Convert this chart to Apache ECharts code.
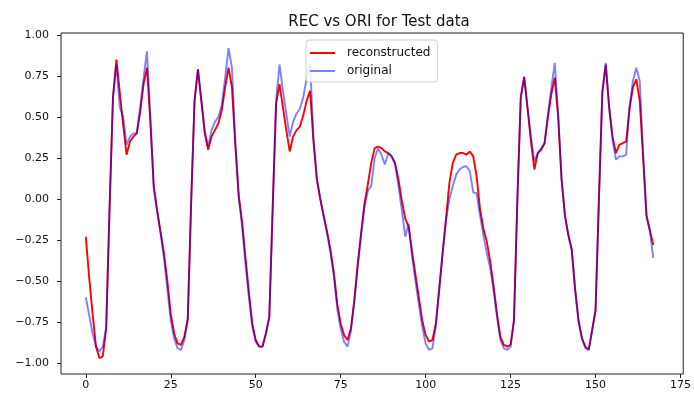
<!DOCTYPE html>
<html>
<head>
<meta charset="utf-8">
<script src="https://cdn.jsdelivr.net/npm/echarts@6/dist/echarts.min.js"></script>
<style>
  html, body { margin: 0; padding: 0; background: #fff; }
  #chart { width: 694px; height: 394px; }
</style>
</head>
<body>
<div id="chart"></div>
<script>
// Hourly test window: 168 steps, model output vs. ground truth (normalised)
const reconstructed = [
  -0.23, -0.48, -0.70, -0.90, -0.97, -0.96, -0.79, -0.05, 0.62, 0.85,
   0.65,  0.45,  0.27,  0.35,  0.38,  0.40,  0.53,  0.70, 0.80, 0.47,
   0.08, -0.07, -0.20, -0.33, -0.50, -0.70, -0.82, -0.88, -0.89, -0.84,
  -0.73, -0.02,  0.60,  0.79,  0.60,  0.40,  0.30,  0.38, 0.42, 0.46,
   0.54,  0.68,  0.80,  0.68,  0.33,  0.02, -0.14, -0.36, -0.57, -0.76,
  -0.86, -0.90, -0.90, -0.82, -0.72, -0.05,  0.58,  0.70, 0.56, 0.42,
   0.29,  0.38,  0.42,  0.44,  0.51,  0.60,  0.66,  0.35, 0.12, 0.00,
  -0.10, -0.20, -0.31, -0.45, -0.64, -0.76, -0.83, -0.86, -0.79, -0.62,
  -0.40, -0.21, -0.03,  0.09,  0.22,  0.31,  0.32,  0.31, 0.29, 0.28,
   0.26,  0.22,  0.12, -0.01, -0.12, -0.17, -0.32, -0.46, -0.60, -0.74,
  -0.83, -0.87, -0.86, -0.76, -0.55, -0.33, -0.12,  0.10, 0.22, 0.27,
   0.28,  0.28,  0.27,  0.29,  0.26,  0.14, -0.06, -0.18, -0.26, -0.38,
  -0.53, -0.70, -0.84, -0.89, -0.90, -0.89, -0.74,  0.00, 0.62, 0.745,
   0.55,  0.35,  0.18,  0.28,  0.30,  0.34,  0.50,  0.64, 0.74, 0.50,
   0.12, -0.10, -0.22, -0.31, -0.55, -0.74, -0.85, -0.90, -0.92, -0.80,
  -0.68,  0.00,  0.65,  0.82,  0.56,  0.38,  0.28,  0.33, 0.34, 0.35,
   0.55,  0.68,  0.73,  0.60,  0.25, -0.10, -0.19, -0.28
];

const original = [
  -0.60, -0.71, -0.82, -0.90, -0.93, -0.90, -0.78, -0.05, 0.62, 0.82,
   0.56,  0.50,  0.33,  0.38,  0.40,  0.40,  0.56,  0.74, 0.90, 0.50,
   0.06, -0.08, -0.21, -0.36, -0.55, -0.74, -0.85, -0.91, -0.92, -0.86,
  -0.74, -0.02,  0.60,  0.79,  0.60,  0.42,  0.32,  0.42, 0.47, 0.50,
   0.57,  0.74,  0.92,  0.80,  0.35,  0.01, -0.17, -0.40, -0.60, -0.78,
  -0.87, -0.90, -0.90, -0.82, -0.72, -0.05,  0.60,  0.82, 0.66, 0.52,
   0.38,  0.47,  0.52,  0.55,  0.62,  0.74,  0.83,  0.37, 0.12, 0.00,
  -0.11, -0.21, -0.33, -0.47, -0.67, -0.79, -0.87, -0.90, -0.81, -0.63,
  -0.42, -0.22, -0.05,  0.05,  0.08,  0.25,  0.31,  0.27, 0.21, 0.28,
   0.26,  0.21,  0.08, -0.07, -0.23, -0.15, -0.35, -0.50, -0.64, -0.78,
  -0.88, -0.92, -0.91, -0.78, -0.55, -0.33, -0.13,  0.00, 0.08, 0.15,
   0.18,  0.195, 0.20,  0.17,  0.04,  0.035, -0.10, -0.22, -0.33, -0.42,
  -0.56, -0.72, -0.86, -0.91, -0.92, -0.90, -0.74,  0.00, 0.62, 0.745,
   0.56,  0.38,  0.23,  0.28,  0.31,  0.34,  0.52,  0.68, 0.83, 0.52,
   0.12, -0.10, -0.22, -0.31, -0.56, -0.75, -0.85, -0.91, -0.92, -0.80,
  -0.68,  0.00,  0.65,  0.83,  0.56,  0.36,  0.24,  0.26, 0.26, 0.27,
   0.56,  0.72,  0.80,  0.72,  0.28, -0.11, -0.20, -0.36
];

const xTicks = [0, 25, 50, 75, 100, 125, 150, 175];
const yTicks = [-1.0, -0.75, -0.5, -0.25, 0.0, 0.25, 0.5, 0.75, 1.0];

const FONT = 'DejaVu Sans';
const toPairs = arr => arr.map((v, i) => [i, v]);

const chart = echarts.init(document.getElementById('chart'), null, { renderer: 'canvas' });

chart.setOption({
  animation: false,
  backgroundColor: '#ffffff',
  title: {
    text: 'REC vs ORI for Test data',
    left: 374,
    top: 10,
    textAlign: 'center',
    textStyle: { fontFamily: FONT, fontSize: 15, fontWeight: 'normal', color: '#111' }
  },
  legend: {
    data: ['reconstructed', 'original'],
    orient: 'vertical',
    left: 306,
    top: 40,
    padding: [7, 7, 5, 4],
    itemGap: 6,
    itemWidth: 25,
    itemHeight: 2,
    icon: 'rect',
    backgroundColor: 'rgba(255,255,255,0.85)',
    borderColor: '#d0d0d0',
    borderWidth: 1,
    borderRadius: 3,
    textStyle: { fontFamily: FONT, fontSize: 12, color: '#111', padding: [0, 0, 0, 7] }
  },
  grid: {
    left: 61,
    top: 33,
    width: 628,
    height: 341,
    show: true,
    borderColor: '#222',
    borderWidth: 1,
    backgroundColor: 'transparent'
  },
  xAxis: {
    type: 'value',
    min: -7.3,
    max: 175.8,
    axisLine: { show: false, onZero: false },
    splitLine: { show: false },
    axisTick: {
      show: true,
      customValues: xTicks,
      length: 4,
      lineStyle: { color: '#222', width: 1 }
    },
    axisLabel: {
      customValues: xTicks,
      fontFamily: FONT,
      fontSize: 11,
      color: '#111',
      margin: 6
    }
  },
  yAxis: {
    type: 'value',
    min: -1.067,
    max: 1.012,
    axisLine: { show: false, onZero: false },
    splitLine: { show: false },
    axisTick: {
      show: true,
      customValues: yTicks,
      length: 4,
      lineStyle: { color: '#222', width: 1 }
    },
    axisLabel: {
      customValues: yTicks,
      fontFamily: FONT,
      fontSize: 11,
      color: '#111',
      margin: 12,
      formatter: v => (v < 0 ? '\u2212' : '') + Math.abs(v).toFixed(2)
    }
  },
  series: [
    {
      name: 'reconstructed',
      type: 'line',
      data: toPairs(reconstructed),
      showSymbol: false,
      symbol: 'none',
      color: '#ff0000',
      lineStyle: { color: '#ff0000', width: 1.9 },
      z: 2
    },
    {
      name: 'original',
      type: 'line',
      data: toPairs(original),
      showSymbol: false,
      symbol: 'none',
      color: 'rgba(0,0,255,0.5)',
      lineStyle: { color: 'rgba(0,0,255,0.5)', width: 1.9 },
      z: 3
    }
  ]
});
</script>
</body>
</html>
